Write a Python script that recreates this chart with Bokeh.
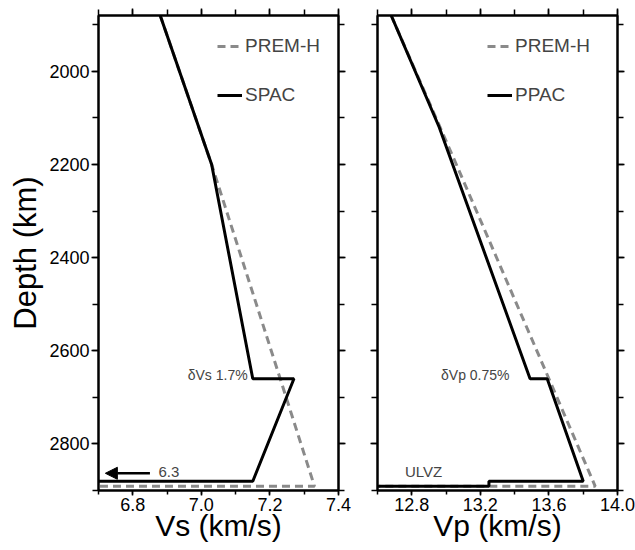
from bokeh.plotting import figure
from bokeh.layouts import row
from bokeh.models import (Range1d, LinearAxis, SingleIntervalTicker, Legend, LegendItem,
                          Arrow, NormalHead, Label, NumeralTickFormatter, CustomJSTickFormatter)
from bokeh.embed import file_html
from bokeh.resources import INLINE

# ---------------- data ----------------
depth_range = [2900, 1880]

prem_vs_depth = [1880, 2200, 2660, 2891, 2891]
prem_vs = [6.88, 7.03, 7.23, 7.33, 0.0]
spac_depth = [1880, 2200, 2660, 2660, 2880, 2880, 2891]
spac_vs = [6.88, 7.03, 7.15, 7.27, 7.15, 6.3, 6.3]

prem_vp_depth = [1880, 2200, 2660, 2891, 2891]
prem_vp = [12.68, 13.06, 13.60, 13.87, 8.0]
ppac_depth = [1880, 2120, 2660, 2660, 2880, 2880, 2891, 2891]
ppac_vp = [12.68, 12.96, 13.49, 13.59, 13.80, 13.25, 13.25, 8.0]

vs_range = [6.7, 7.4]
vp_range = [12.6, 14.0]

FONT = "Liberation Sans"
GRAY = "#8a8a8a"


def style_axis(ax, labels=True, tick=7):
    ax.axis_line_width = 2
    ax.axis_line_color = "black"
    ax.major_tick_out = tick
    ax.major_tick_in = 0
    ax.minor_tick_out = tick - 1
    ax.minor_tick_in = 0
    ax.major_tick_line_width = 1.5
    ax.minor_tick_line_width = 1.5
    ax.major_label_text_font = FONT
    ax.major_label_text_color = "black"
    ax.major_label_standoff = 2
    ax.axis_label_text_font = FONT
    ax.axis_label_text_font_style = "normal"
    ax.axis_label_text_font_size = "30px"
    ax.axis_label_text_color = "black"
    if labels:
        ax.major_label_text_font_size = "18px"
    else:
        ax.formatter = CustomJSTickFormatter(code="return '';")
        ax.major_label_text_font_size = "1px"
        ax.major_label_standoff = 0


def make_panel(xr, xint, width, bl, br, ylabels, xlabel, fmt):
    p = figure(width=width, height=550, x_range=Range1d(*xr), y_range=Range1d(*depth_range),
               output_backend="svg", toolbar_location=None,
               x_axis_location=None, y_axis_location=None,
               min_border_left=bl, min_border_right=br, min_border_top=15, min_border_bottom=60)
    p.outline_line_color = "black"
    p.outline_line_width = 2
    p.background_fill_color = "white"
    p.border_fill_color = "white"
    p.grid.visible = False
    for loc in ["below", "above"]:
        ax = LinearAxis(ticker=SingleIntervalTicker(interval=xint, num_minor_ticks=2),
                        formatter=NumeralTickFormatter(format=fmt))
        if loc == "below":
            style_axis(ax, labels=True, tick=5)
            ax.axis_label = xlabel
            ax.axis_label_standoff = -5
        else:
            style_axis(ax, labels=False)
        p.add_layout(ax, loc)
    for loc in ["left", "right"]:
        ax = LinearAxis(ticker=SingleIntervalTicker(interval=200, num_minor_ticks=2))
        style_axis(ax, labels=(loc == "left" and ylabels))
        if loc == "left" and ylabels:
            ax.axis_label = "Depth (km)"
            ax.axis_label_standoff = 3
            ax.axis_label_text_font_size = "31px"
        p.add_layout(ax, loc)
    return p


def make_legend(items, x):
    return Legend(items=items, location=(x, 384), orientation="vertical",
                  background_fill_alpha=0, border_line_color=None,
                  label_text_font=FONT, label_text_font_size="19px",
                  glyph_width=25, glyph_height=20, label_height=20,
                  label_standoff=3, spacing=27, padding=0, margin=0)


# ---------------- left panel (Vs) ----------------
p1 = make_panel(vs_range, 0.2, 358, 98, 20, True, "Vs (km/s)", "0.0")
r_prem1 = p1.line(prem_vs, prem_vs_depth, line_color=GRAY, line_width=3, line_dash="8 5")
r_spac = p1.line(spac_vs, spac_depth, line_color="black", line_width=3)
p1.add_layout(make_legend([LegendItem(label="PREM-H", renderers=[r_prem1]),
                           LegendItem(label="SPAC", renderers=[r_spac])], 119))
p1.add_layout(Label(x=7.135, y=2652, text="δVs 1.7%", text_align="right", text_baseline="middle",
                    text_font=FONT, text_font_size="14px"))
p1.add_layout(Arrow(end=NormalHead(size=12, fill_color="black", line_color="black"),
                    x_start=6.85, y_start=2863, x_end=6.72, y_end=2863, line_width=2.5))
p1.add_layout(Label(x=6.875, y=2860, text="6.3", text_align="left", text_baseline="middle",
                    text_font=FONT, text_font_size="15px"))

# ---------------- right panel (Vp) ----------------
p2 = make_panel(vp_range, 0.4, 277, 19, 18, False, "Vp (km/s)", "0.0")
r_prem2 = p2.line(prem_vp, prem_vp_depth, line_color=GRAY, line_width=3, line_dash="8 5")
r_ppac = p2.line(ppac_vp, ppac_depth, line_color="black", line_width=3)
p2.add_layout(make_legend([LegendItem(label="PREM-H", renderers=[r_prem2]),
                           LegendItem(label="PPAC", renderers=[r_ppac])], 110))
p2.add_layout(Label(x=13.37, y=2652, text="δVp 0.75%", text_align="right", text_baseline="middle",
                    text_font=FONT, text_font_size="14px"))
p2.add_layout(Label(x=12.76, y=2860, text="ULVZ", text_align="left", text_baseline="middle",
                    text_font=FONT, text_font_size="15px"))

layout = row(p1, p2)
open("out.html", "w").write(file_html(layout, INLINE))
